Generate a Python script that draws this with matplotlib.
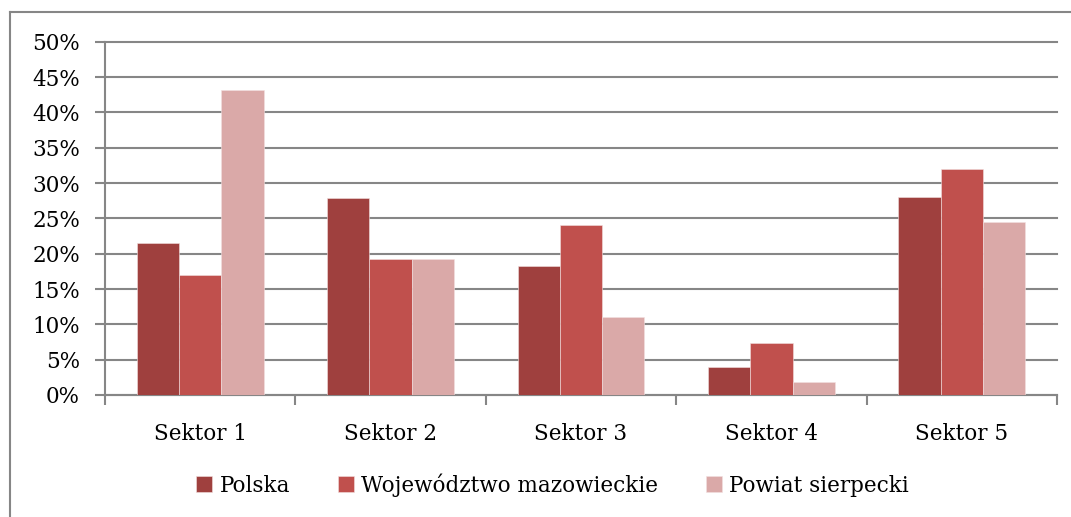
import numpy as np
import matplotlib
matplotlib.use("Agg")
import matplotlib.pyplot as plt
from matplotlib.lines import Line2D
from matplotlib.ticker import PercentFormatter

plt.rcParams["font.family"] = ["DejaVu Serif"]

sektory = ["Sektor 1", "Sektor 2", "Sektor 3", "Sektor 4", "Sektor 5"]
polska = [21.5, 27.9, 18.3, 3.9, 28.0]
mazowieckie = [17.0, 19.3, 24.1, 7.3, 32.0]
sierpecki = [43.2, 19.3, 11.0, 1.8, 24.5]

serie = [
    ("Polska", polska, "#9F403E"),
    ("Województwo mazowieckie", mazowieckie, "#C0504D"),
    ("Powiat sierpecki", sierpecki, "#DAA9A8"),
]

grid_col = "#868686"

fig = plt.figure(figsize=(10.71, 5.17), dpi=100)
ax = fig.add_axes([0.098, 0.236, 0.889, 0.683])

x = np.arange(len(sektory))
w = 1 / 4.5
for i, (name, vals, col) in enumerate(serie):
    ax.bar(x + (i - 1) * w, vals, width=w, color=col, label=name,
           edgecolor="#F2E0E0", linewidth=0.4, zorder=3)

ax.set_xlim(-0.5, len(sektory) - 0.5)
ax.set_ylim(0, 50)
ax.set_yticks(np.arange(0, 51, 5))
ax.yaxis.set_major_formatter(PercentFormatter(decimals=0))
ax.yaxis.grid(True, color=grid_col, linewidth=1.5, zorder=0)
ax.set_axisbelow(True)
for gl in ax.get_ygridlines():
    gl.set_clip_on(False)

ax.set_xticks(x)
ax.set_xticklabels(sektory)
ax.set_xticks(np.arange(-0.5, len(sektory), 1), minor=True)
ax.tick_params(axis="x", which="major", length=0, pad=20, labelsize=15.5)
ax.tick_params(axis="x", which="minor", length=7, color=grid_col, width=1.5)
ax.tick_params(axis="y", length=7, color=grid_col, width=1.5, labelsize=15.5, pad=11)

for s in ["top", "right"]:
    ax.spines[s].set_visible(False)
for s in ["left", "bottom"]:
    ax.spines[s].set_color(grid_col)
    ax.spines[s].set_linewidth(1.5)

fig.legend(*ax.get_legend_handles_labels(), loc="center",
           bbox_to_anchor=(0.516, 0.062), ncol=3, frameon=False,
           fontsize=15.5, handlelength=0.75, handleheight=0.75, handletextpad=0.35,
           columnspacing=2.2)

# ramka wykresu
fig.add_artist(Line2D([0.0093, 0.0093], [0.977, 0.0], color=grid_col, linewidth=1.5))
fig.add_artist(Line2D([0.0093, 1.0], [0.977, 0.977], color=grid_col, linewidth=1.5))

fig.savefig("out.png", dpi=100)
